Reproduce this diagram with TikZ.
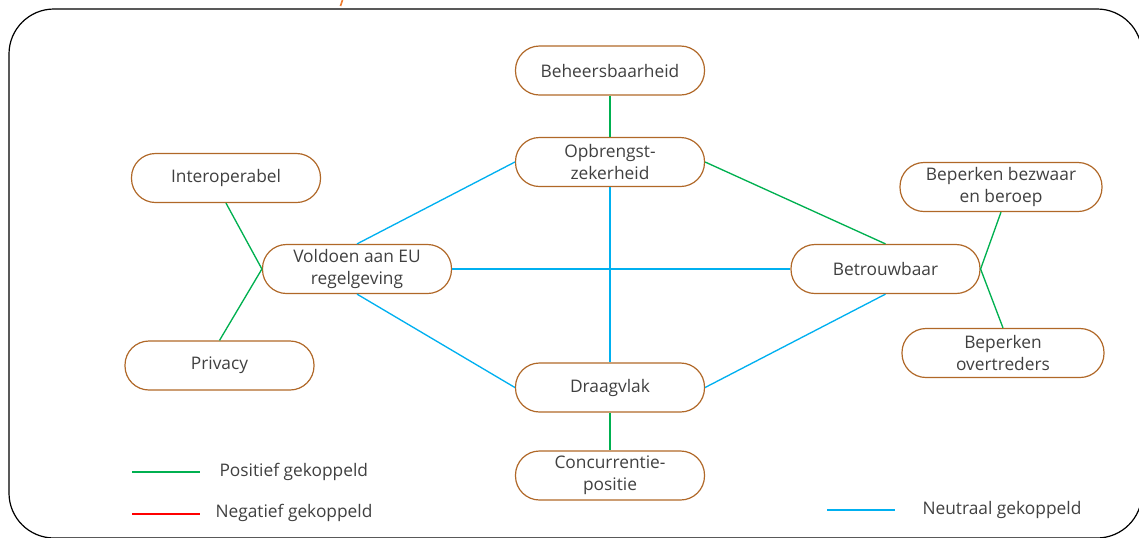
\documentclass[tikz,border=0pt]{standalone}
\usepackage{fontspec}
\setmainfont{Open Sans}
\definecolor{nodebrown}{RGB}{176,104,40}
\definecolor{txtgray}{RGB}{64,64,64}
\definecolor{posgreen}{RGB}{0,176,80}
\definecolor{neublue}{RGB}{0,176,240}
\definecolor{negred}{RGB}{255,0,0}
\definecolor{fragorange}{RGB}{237,125,49}
\tikzset{every picture/.style={line width=0.75pt}}
\tikzset{
  pill/.style={draw=nodebrown, line width=0.9pt, rounded corners=18pt, minimum width=141.75pt, minimum height=36.75pt, align=center, text=txtgray, font=\fontsize{13}{16.5}\selectfont, inner sep=1pt},
  widepill/.style={pill, minimum width=151.5pt},
  poslink/.style={draw=posgreen, line width=1pt},
  neulink/.style={draw=neublue, line width=1pt},
  neglink/.style={draw=negred, line width=1pt},
  legendtext/.style={anchor=west, text=txtgray, font=\fontsize{13}{16.5}\selectfont, inner sep=0pt}
}

\begin{document}
\begin{tikzpicture}[x=0.75pt,y=0.75pt,yscale=-1,xscale=1]
    \useasboundingbox (0,0) rectangle (1139,537);
    \clip (0,0) rectangle (1139,537);

    %Shape: Frame
    \draw [line width=0.9pt, rounded corners=33.75pt] (9,9) rectangle (1142,538);
    %fragment of cut-off title
    \draw [fragorange, line width=1.2pt] (342.5,0) -- (340.5,6);

    % Nodes
    \node [pill] (beheer) at (610,70.5) {Beheersbaarheid};
    \node [pill] (opbrengst) at (610,162) {Opbrengst-\\zekerheid};
    \node [pill] (interop) at (226,178) {Interoperabel};
    \node [pill] (voldoen) at (357,269) {Voldoen aan EU\\regelgeving};
    \node [pill] (privacy) at (219.5,365.5) {Privacy};
    \node [pill] (draag) at (610,387.5) {Draagvlak};
    \node [pill] (concur) at (610,475.5) {Concurrentie-\\positie};
    \node [pill] (betrouw) at (885.5,269) {Betrouwbaar};
    \node [widepill] (bezwaar) at (1001,187) {Beperken bezwaar\\en beroep};
    \node [widepill] (overtr) at (1003,353) {Beperken\\overtreders};

    % Positive links
    \draw [poslink] (beheer.south) -- (opbrengst.north);
    \draw [poslink] (opbrengst.east) -- (betrouw.north);
    \draw [poslink] (interop.south) -- (voldoen.west);
    \draw [poslink] (privacy.north) -- (voldoen.west);
    \draw [poslink] (betrouw.east) -- (bezwaar.south);
    \draw [poslink] (betrouw.east) -- (overtr.north);
    \draw [poslink] (draag.south) -- (concur.north);

    % Neutral links
    \draw [neulink] (voldoen.north) -- (opbrengst.west);
    \draw [neulink] (voldoen.east) -- (betrouw.west);
    \draw [neulink] (voldoen.south) -- (draag.west);
    \draw [neulink] (opbrengst.south) -- (draag.north);
    \draw [neulink] (draag.east) -- (betrouw.south);

    % Legend
    \coordinate (posA) at (132,472);
    \coordinate (posB) at (200,472);
    \coordinate (negA) at (132,514);
    \coordinate (negB) at (200,514);
    \coordinate (neuA) at (827,510);
    \coordinate (neuB) at (895,510);
    \draw [poslink] (posA) -- (posB);
    \draw [neglink] (negA) -- (negB);
    \draw [neulink] (neuA) -- (neuB);
    \node [legendtext] (postxt) at (219,472) {Positief gekoppeld};
    \node [legendtext] (negtxt) at (215,513) {Negatief gekoppeld};
    \node [legendtext] (neutxt) at (922,510) {Neutraal gekoppeld};
\end{tikzpicture}
\end{document}
